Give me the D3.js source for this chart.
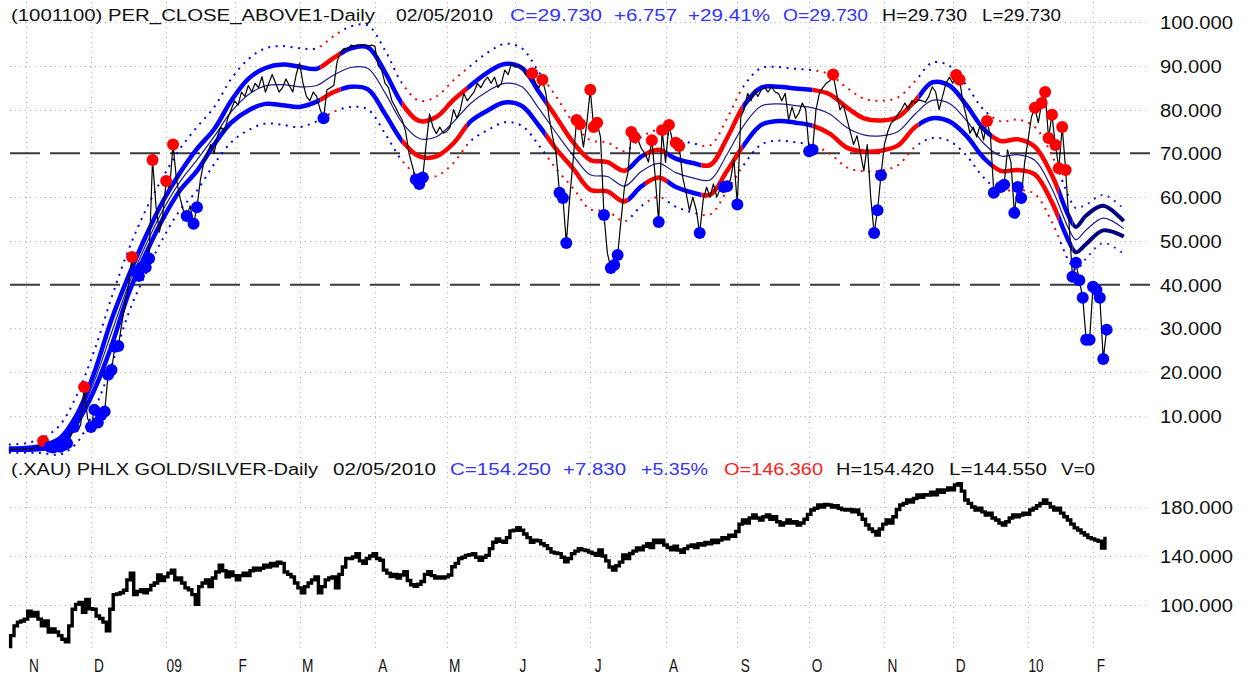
<!DOCTYPE html>
<html>
<head>
<meta charset="utf-8">
<script src="https://cdn.jsdelivr.net/npm/d3@7"></script>
<style>
  body { margin: 0; background: #fff; }
  svg { display: block; font-family: "Liberation Sans", Arial, sans-serif; }
</style>
</head>
<body>
<div id="chart"></div>
<script>
const width = 1248;
const height = 681;

// trading sessions counted from 2008-11-03 (day 0); the plots start at day -5
const firstDay = -5;

const monthLabels = ["N", "D", "09", "F", "M", "A", "M", "J", "J", "A", "S", "O", "N", "D", "10", "F"];
const monthStartDays = [0, 19, 41, 61, 80, 102, 123, 143, 165, 187, 208, 229, 251, 271, 293, 312];

const topTicks = [10, 20, 30, 40, 50, 60, 70, 80, 90, 100];
const bottomTicks = [100, 140, 180];
const refLevels = [70, 40];

const topHeader = [
  ["(1001100) PER_CLOSE_ABOVE1-Daily", "ink"],
  ["02/05/2010", "ink"],
  ["C=29.730", "blue"],
  ["+6.757", "blue"],
  ["+29.41%", "blue"],
  ["O=29.730", "blue"],
  ["H=29.730", "ink"],
  ["L=29.730", "ink"]
];
const bottomHeader = [
  ["(.XAU) PHLX GOLD/SILVER-Daily", "ink"],
  ["02/05/2010", "ink"],
  ["C=154.250", "blue"],
  ["+7.830", "blue"],
  ["+5.35%", "blue"],
  ["O=146.360", "red"],
  ["H=154.420", "ink"],
  ["L=144.550", "ink"],
  ["V=0", "ink"]
];

// PER_CLOSE_ABOVE1 daily close, day -5 .. 316
const perClose = [
  2.3, 2.3, 2.4, 2.3, 2.5, 2.6, 2.4, 2.5, 2.8, 3.5,
  4.3, 3.6, 3.0, 2.8, 3.2, 3.0, 3.4, 3.8, 5.2, 7.5,
  6.5, 8, 16.6, 9.5, 7.5, 11.4, 8.5, 10.2, 11, 19.4,
  20.5, 25.8, 26, 31, 36, 40, 46.3, 43, 42, 44,
  44, 46, 68.5, 58, 52, 56, 63.7, 62, 72, 64,
  60, 57, 55.7, 58, 53.9, 57.7, 64, 68, 70, 72,
  70, 74, 76, 75, 78, 80, 82, 81, 84, 83,
  85.5, 84, 86, 85, 87.5, 84, 86, 88, 86, 84,
  85, 87, 85.5, 84, 88, 90.6, 86, 83, 82, 84,
  83, 80, 78, 84.5, 85, 85.5, 91, 93, 94, 93.5,
  94.7, 94.5, 94.7, 94.7, 94.7, 94.5, 94.7, 94.5, 90, 89,
  86, 85, 82, 80.6, 79, 77.6, 75, 70, 67, 64,
  63, 64.5, 72, 79, 76, 74.5, 76, 74.6, 75, 76,
  80, 78, 80, 83.7, 82, 83, 84, 86, 85, 86.5,
  87.4, 86, 87.4, 85, 86, 89, 88, 90.6, 89.7, 90,
  89.7, 88, 87.4, 88.3, 86, 85, 86.8, 83.8, 78, 73.7,
  70, 61, 59.8, 49.5, 60, 68.5, 77.6, 76.7, 71.4, 77,
  84.5, 76, 77, 73.7, 55.9, 47.2, 43.8, 44.5, 46.8, 54.8,
  62.3, 65.5, 74.9, 73.7, 73, 71, 70, 68, 73, 64.6,
  54.3, 75.3, 68, 76.5, 73, 72.4, 71.7, 64.6, 61, 57,
  60, 57, 51.8, 59.3, 62.3, 60, 63, 60, 62, 62.3,
  62.5, 64, 68.5, 58.3, 78.3, 80, 83.7, 82, 84.5, 83,
  84.5, 85, 84, 85.2, 84, 83.7, 82, 83.7, 77.6, 80.6,
  78, 79.2, 81.5, 80, 70.5, 70.8, 80, 83.7, 85, 86,
  86.5, 88, 83.8, 80, 81, 78, 75, 72, 74, 70,
  66, 72, 60, 51.8, 57, 65, 72, 75, 77, 77.6,
  79, 80, 81.5, 80, 82, 81.5, 82.2, 82, 81.7, 83,
  85.2, 84, 80, 83, 86, 87.4, 86, 87.9, 86.8, 81.5,
  78.3, 74.6, 76, 73.7, 76.5, 73, 77.4, 74, 61, 63,
  62.3, 62.8, 70.8, 68, 56.4, 62.3, 59.8, 67.8, 73, 78.3,
  80.4, 77, 81.5, 84, 73.5, 78.8, 71.9, 66.6, 76, 66.2,
  54, 41.8, 45, 41, 37, 27.4, 27.4, 39.5, 38.8, 37,
  23, 29.73
];

const redSignalDays = [5, 17, 31, 37, 41, 43, 148, 151, 161, 162, 165, 166, 167, 177, 178, 183, 186, 188,
  190, 191, 236, 272, 273, 281, 295, 297, 298, 299, 300, 301, 302, 303, 304];
const blueSignalDays = [7, 8, 9, 10, 11, 12, 14, 19, 20, 21, 22, 23, 24, 25, 26, 27, 32, 33, 34, 35, 36, 47,
  49, 50, 87, 114, 115, 116, 156, 157, 158, 169, 171, 172, 173, 185, 197, 204, 205, 208, 229, 230, 248,
  249, 250, 283, 285, 286, 289, 290, 291, 306, 307, 308, 309, 310, 311, 312, 313, 314, 315, 316];

// smoothed envelope, sampled on these sessions
const bandDays = [-5, 0, 5, 10, 15, 20, 25, 30, 35, 40, 45, 50, 55, 60, 65, 70, 75, 80, 85, 90, 95, 100,
  105, 110, 115, 120, 125, 130, 135, 140, 145, 150, 155, 160, 165, 170, 175, 180, 185, 190, 195, 200,
  205, 210, 215, 220, 225, 230, 235, 240, 245, 250, 255, 260, 265, 270, 275, 280, 285, 290, 295, 300,
  305, 307, 310, 315, 321];
const upperBand = [2.6, 2.7, 3.3, 5, 10.5, 20, 32, 42, 51, 59, 65.5, 71, 75.5, 82, 87, 89.5, 90.3, 89.8,
  89.3, 91.8, 94, 94.2, 88.5, 81.3, 77.4, 78.3, 82.2, 85.5, 88.5, 90.4, 89.5, 84, 78.3, 72.5, 68.5, 68,
  66, 69.3, 70.8, 68.8, 67.8, 67.3, 73.5, 81, 85, 85.2, 84.8, 84.5, 83.5, 80.5, 78, 77.5, 78.3, 82, 86.2,
  85.5, 81, 75.6, 72.8, 73.2, 71.5, 65, 55.5, 53.2, 55.8, 58, 54.5];
const midBand = [2.4, 2.5, 2.9, 4.2, 9.5, 18, 29, 40, 49, 57, 63.5, 68.5, 73.8, 79.5, 83.4, 85.4, 85.7,
  85.2, 85.5, 87.9, 89.6, 89.4, 83.8, 77, 73.4, 73.8, 77.2, 81.4, 84.2, 86, 85.2, 80.2, 74.7, 69.5, 65.1,
  64.7, 62.5, 65.9, 67.7, 65.6, 64.4, 63.9, 69.8, 76.5, 80.8, 81.3, 80.9, 80.4, 79, 75.9, 74.2, 74, 75,
  79, 82.1, 81.4, 77.5, 72.3, 69.4, 69.7, 68.4, 61.9, 52.6, 50.3, 52.5, 55.2, 52.8];
const lowerBand = [2.3, 2.3, 2.5, 3.5, 8.5, 16, 26, 38, 47, 55, 61.5, 66, 72, 77, 79.8, 81.3, 81, 80.6,
  81.8, 84, 85.2, 84.6, 79, 72.8, 69.3, 69.3, 72.3, 77.3, 79.8, 81.6, 80.8, 76.3, 71, 66.5, 61.7, 61.3,
  59, 62.5, 64.5, 62.3, 61, 60.5, 66, 72, 76.5, 77.4, 77, 76.3, 74.5, 71.3, 70.4, 70.6, 71.8, 76, 78,
  77.3, 74, 69, 66, 66.2, 65.2, 58.8, 49.8, 47.4, 49.3, 52.4, 51];
const upperOuter = [3.5, 3.8, 5, 8, 15, 25, 37, 48, 57, 64.5, 71, 76, 80.5, 87, 91.5, 94, 94.5, 94, 94,
  96.8, 99, 99.2, 93.5, 86, 82, 83, 86.7, 90, 93, 95, 94, 88.5, 83, 77, 73, 72.5, 70.5, 73.8, 75.3, 73.3,
  72.3, 71.8, 78, 85.5, 89.5, 89.7, 89.3, 89, 88, 85, 82.5, 82, 82.8, 86.5, 90.7, 90, 85.5, 80, 77.3,
  77.7, 76, 69.5, 60, 57.5, 58.3, 60.5, 57.3];
const lowerOuter = [1.6, 1.6, 1.5, 1.2, 4, 11.5, 21.5, 33.5, 42.5, 50.5, 57, 61.5, 67.5, 72.5, 75.3,
  76.8, 76.5, 76, 77.3, 79.5, 80.6, 80, 74.5, 68.3, 64.8, 64.8, 67.8, 72.8, 75.3, 77.1, 76.3, 71.8, 66.5,
  62, 57.2, 56.8, 54.5, 58, 60, 57.8, 56.5, 56, 61.5, 67.5, 72, 72.9, 72.5, 71.8, 70, 66.8, 65.9, 66.1,
  67.3, 71.5, 73.5, 72.8, 69.5, 64.5, 61.5, 61.7, 60.7, 54.3, 45.3, 43.4, 46, 49.5, 47];

// envelope state by session range: b = blue, r = red, p = projection
const bandState = [
  [-5, 86, "b"], [86, 92, "r"], [92, 110, "b"], [110, 129, "r"], [129, 152, "b"], [152, 176, "r"],
  [176, 181, "b"], [181, 187.5, "r"], [187.5, 197.5, "b"], [197.5, 209.5, "r"], [209.5, 230, "b"],
  [230, 261, "r"], [261, 282.5, "b"], [282.5, 302, "r"], [302, 306, "b"], [306, 321, "p"]
];

// PHLX Gold/Silver index daily close, day -5 .. 316
const xauClose = [
  66, 75, 83, 86, 87, 88.5, 95, 91, 94, 88.5,
  83, 87, 78, 80.5, 78, 75, 72, 70, 83, 96.5,
  100.5, 102, 94, 104.5, 97, 96.5, 91, 89, 86, 79,
  96.5, 108.5, 109, 110, 112, 120.5, 126, 108.5, 111, 112.5,
  110, 112.5, 116, 118, 124.5, 120, 123, 126, 128.5, 120.5,
  122, 118, 114, 112.5, 108.5, 100.5, 115, 118, 120.5, 115,
  122, 127, 132.5, 128, 123, 127, 124, 120.5, 124, 126,
  124, 128, 130, 128.5, 130, 132.5, 131, 134, 132, 135,
  134, 127, 125, 123, 118, 114, 110, 115, 118, 120.5,
  123, 110, 115, 120.5, 122, 123, 114, 125, 131, 137.9,
  138, 139.2, 141.9, 136, 134, 137.9, 140, 141.9, 138, 136.5,
  128.5, 126, 123.2, 125, 122, 124.5, 127.2, 120, 116.5, 115.2,
  117, 119.2, 125, 127.2, 124, 121.9, 123, 121.9, 123, 124.5,
  131.2, 134, 137.9, 139, 140.5, 141, 141.9, 139, 136.5, 139,
  140.5, 146, 151.2, 153.9, 152, 151.2, 155, 160.5, 161, 163.2,
  161, 157.9, 155, 151.2, 153, 152.5, 150, 148.5, 146, 143.2,
  142.5, 141.9, 139, 135.2, 138, 141.9, 144, 145.9, 145, 144.5,
  143.2, 142, 140.5, 145, 140, 136, 131, 128.6, 132, 135,
  140.8, 138, 142, 144, 146.5, 145, 148, 150, 147, 153,
  151, 153, 149, 147, 145, 148, 144.9, 143, 146, 148,
  149, 147, 150, 149, 151, 150, 153, 151, 153, 155,
  154, 157, 156, 160, 166, 169.4, 167, 171, 173.5, 171,
  169.4, 172, 173.5, 170, 172, 168, 165.3, 167, 169.4, 167,
  168, 165.3, 167, 170, 174, 177.6, 179, 181.6, 180, 182,
  181.6, 180, 181, 179, 178, 177.6, 178, 176, 177.6, 174,
  170, 165.3, 162, 160, 157.1, 162, 166, 169.4, 167, 172,
  178, 181.6, 183, 185.7, 184, 187, 189.8, 188, 190, 189.8,
  192, 190, 193.9, 192, 193.9, 195.5, 194, 198, 199, 193,
  185.7, 183, 180, 177.6, 179, 176, 173.5, 175, 171, 169.4,
  167, 165.3, 168, 171, 173.5, 172, 173.5, 175, 174, 177.6,
  179, 181, 183, 185.7, 183, 180, 177.6, 179, 175, 172,
  169.4, 166, 163, 161.2, 159, 157.1, 155, 154, 153, 152,
  146.42, 154.25
];

// ---- layout ----
const gridLeft = 10, gridRight = 1150;
const axisX = 1160;
const topHeaderSpans = [[11, 375], [396, 493], [510, 602], [614, 677], [688, 770], [783, 868], [882, 967], [982, 1061]];
const bottomHeaderSpans = [[11, 318], [333, 436], [450, 551], [563, 626], [641, 708], [724, 823], [836, 934], [949, 1047], [1061, 1095]];
const textColor = { ink: "#111111", blue: "#3333ff", red: "#ff2020" };
const bandColor = { b: "#0000ff", r: "#ff0000", p: "#000080" };
const dotColor = { b: "#0000ff", r: "#ff0000", p: "#2a2ad0" };

const svg = d3.select("#chart").append("svg")
  .attr("width", width)
  .attr("height", height)
  .attr("viewBox", `0 0 ${width} ${height}`);

svg.append("rect").attr("width", width).attr("height", height).attr("fill", "#fff");

const x = d3.scaleLinear().domain([0, 312]).range([26, 1093]);
const yTop = d3.scaleLinear().domain([10, 100]).range([416, 22]);
const yBot = d3.scaleLinear().domain([100, 180]).range([605, 507]);

// stretch a text element to a given width
function fitWidth(sel, factor) {
  sel.each(function () {
    const w = this.getComputedTextLength();
    d3.select(this).attr("textLength", w * factor).attr("lengthAdjust", "spacingAndGlyphs");
  });
}

// dotted grid
const grid = svg.append("g")
  .attr("stroke", "#b4b4b4")
  .attr("stroke-width", 1)
  .attr("stroke-dasharray", "1 4");

grid.selectAll(".vgrid")
  .data(monthStartDays)
  .join("line")
  .attr("x1", d => Math.round(x(d)) + 0.5)
  .attr("x2", d => Math.round(x(d)) + 0.5)
  .attr("y1", 2)
  .attr("y2", 650);

grid.selectAll(".hgrid-top")
  .data(topTicks.filter(t => !refLevels.includes(t)))
  .join("line")
  .attr("x1", gridLeft).attr("x2", gridRight)
  .attr("y1", d => Math.round(yTop(d)) + 0.5)
  .attr("y2", d => Math.round(yTop(d)) + 0.5);

grid.selectAll(".hgrid-bot")
  .data(bottomTicks)
  .join("line")
  .attr("x1", gridLeft).attr("x2", gridRight)
  .attr("y1", d => Math.round(yBot(d)) + 0.5)
  .attr("y2", d => Math.round(yBot(d)) + 0.5);

// dashed reference levels
svg.append("g")
  .selectAll("line")
  .data(refLevels)
  .join("line")
  .attr("x1", gridLeft).attr("x2", gridRight)
  .attr("y1", d => yTop(d)).attr("y2", d => yTop(d))
  .attr("stroke", "#3a3a3a")
  .attr("stroke-width", 2)
  .attr("stroke-dasharray", "30 10");

// envelope
const bandLine = d3.line()
  .x((d, i) => x(bandDays[i]))
  .y(d => yTop(d))
  .curve(d3.curveCatmullRom.alpha(0.5));

const defs = svg.append("defs");
bandState.forEach(([from, to], i) => {
  const x0 = i === 0 ? 0 : x(from);
  const x1 = i === bandState.length - 1 ? width : x(to);
  defs.append("clipPath").attr("id", "seg" + i)
    .append("rect")
    .attr("x", x0).attr("y", 0)
    .attr("width", x1 - x0).attr("height", 462);
});

const outerG = svg.append("g");
bandState.forEach(([, , s], i) => {
  const g = outerG.append("g").attr("clip-path", `url(#seg${i})`);
  [upperOuter, lowerOuter].forEach(vals => {
    g.append("path")
      .attr("d", bandLine(vals))
      .attr("fill", "none")
      .attr("stroke", dotColor[s])
      .attr("stroke-width", 2)
      .attr("stroke-dasharray", "2 5.5");
  });
});

svg.append("path")
  .attr("d", bandLine(midBand))
  .attr("fill", "none")
  .attr("stroke", "#1c1c8a")
  .attr("stroke-width", 1.2);

const thickG = svg.append("g");
bandState.forEach(([, , s], i) => {
  const g = thickG.append("g").attr("clip-path", `url(#seg${i})`);
  [upperBand, lowerBand].forEach(vals => {
    g.append("path")
      .attr("d", bandLine(vals))
      .attr("fill", "none")
      .attr("stroke", bandColor[s])
      .attr("stroke-width", s === "p" ? 4 : 4.5);
  });
});

// close line
svg.append("path")
  .attr("d", d3.line().x((d, i) => x(firstDay + i)).y(d => yTop(d))(perClose))
  .attr("fill", "none")
  .attr("stroke", "#000")
  .attr("stroke-width", 1.2)
  .attr("stroke-linejoin", "round");

// signal markers
const markers = [
  ...redSignalDays.map(day => ({ day, color: "#ff0000" })),
  ...blueSignalDays.map(day => ({ day, color: "#0000ff" }))
];
svg.append("g")
  .selectAll("circle")
  .data(markers)
  .join("circle")
  .attr("cx", d => x(d.day))
  .attr("cy", d => yTop(perClose[d.day - firstDay]))
  .attr("r", 6)
  .attr("fill", d => d.color);

// lower panel: gold/silver index, drawn as blocky daily steps
svg.append("path")
  .attr("d", d3.line().x((d, i) => x(firstDay + i)).y(d => yBot(d)).curve(d3.curveStep)(xauClose))
  .attr("fill", "none")
  .attr("stroke", "#000")
  .attr("stroke-width", 3.4)
  .attr("stroke-linejoin", "miter");

// right-hand value axes
function valueAxis(scale, ticks) {
  const g = svg.append("g")
    .attr("transform", `translate(${axisX},0)`)
    .call(d3.axisRight(scale).tickValues(ticks).tickSize(0).tickPadding(0).tickFormat(d3.format(".3f")));
  g.select(".domain").remove();
  g.selectAll("text")
    .attr("font-family", "Liberation Sans, Arial, sans-serif")
    .attr("font-size", 18)
    .attr("fill", "#111")
    .attr("dy", "0.36em")
    .call(fitWidth, 1.12);
}
valueAxis(yTop, topTicks);
valueAxis(yBot, bottomTicks);

// month labels
svg.append("g")
  .selectAll("text")
  .data(monthStartDays)
  .join("text")
  .attr("x", d => x(d) + 8)
  .attr("y", 672)
  .attr("text-anchor", "middle")
  .attr("font-size", 19)
  .attr("fill", "#111")
  .text((d, i) => monthLabels[i])
  .call(fitWidth, 0.72);

// headers
function header(items, spans, baseline) {
  svg.append("g")
    .selectAll("text")
    .data(items)
    .join("text")
    .attr("x", (d, i) => spans[i][0])
    .attr("y", baseline)
    .attr("font-size", 16)
    .attr("fill", d => textColor[d[1]])
    .attr("textLength", (d, i) => spans[i][1] - spans[i][0])
    .attr("lengthAdjust", "spacingAndGlyphs")
    .text(d => d[0]);
}
header(topHeader, topHeaderSpans, 21);
header(bottomHeader, bottomHeaderSpans, 475);
</script>
</body>
</html>
